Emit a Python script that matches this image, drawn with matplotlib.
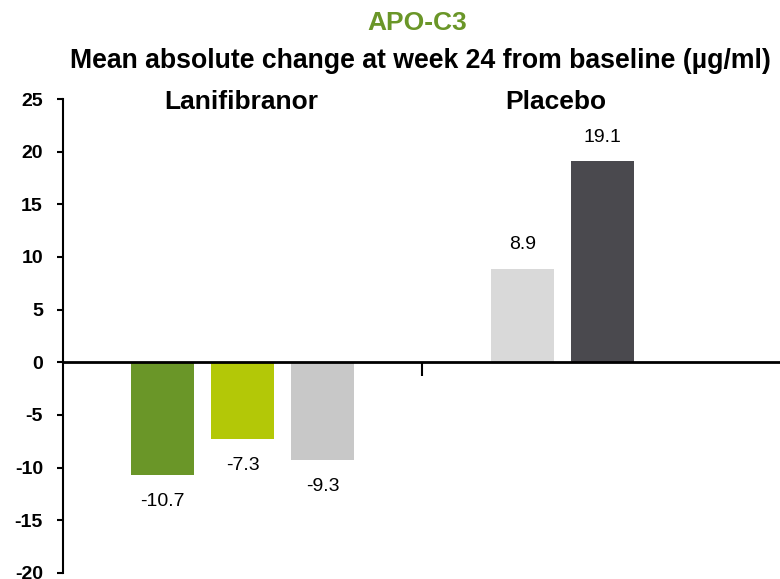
import numpy as np
import matplotlib.pyplot as plt

plt.rcParams['font.family'] = ['Liberation Sans', 'DejaVu Sans']
plt.rcParams['axes.unicode_minus'] = False

# mean absolute change at week 24 (ug/ml)
lani_values = [-10.7, -7.3, -9.3]
placebo_values = [8.9, 19.1]
lani_colors = ['#6A9628', '#B3C807', '#C8C8C8']
placebo_colors = ['#D9D9D9', '#4A494E']
group_names = ['Lanifibranor', 'Placebo']

lani_x = np.arange(len(lani_values))
placebo_x = 4.5 + np.arange(len(placebo_values))

fig = plt.figure(figsize=(7.8, 5.79), dpi=100)
ax = fig.add_axes([0.0808, 0.0104, 0.9192, 0.8186])

width = 0.79
ax.bar(lani_x, lani_values, width=width, color=lani_colors)
ax.bar(placebo_x, placebo_values, width=width, color=placebo_colors)

for x, v in zip(list(lani_x) + list(placebo_x), lani_values + placebo_values):
    if v < 0:
        ax.annotate('%.1f' % v, (x, v), xytext=(0, -19), textcoords='offset points',
                    ha='center', va='center', fontsize=14)
    else:
        ax.annotate('%.1f' % v, (x, v), xytext=(0, 17), textcoords='offset points',
                    ha='center', va='center', fontsize=14)

ax.set_xlim(-1.244, 7.72)
ax.set_ylim(-20, 25)
ax.set_yticks(np.arange(-20, 26, 5))
ax.tick_params(axis='y', direction='out', length=4.5, width=1.5, labelsize=14, pad=10)
for lbl in ax.get_yticklabels():
    lbl.set_fontweight('bold')

# x axis sits at zero, with a single tick between the groups
ax.spines['bottom'].set_position(('data', 0))
ax.spines['bottom'].set_linewidth(2)
ax.spines['left'].set_linewidth(1.5)
ax.spines['top'].set_visible(False)
ax.spines['right'].set_visible(False)
ax.set_xticks([3.24])
ax.set_xticklabels([''])
ax.tick_params(axis='x', direction='out', length=10, width=1.5)

ax.text(0.98, 24.7, group_names[0], ha='center', va='center', fontsize=19, fontweight='bold')
ax.text(4.92, 24.7, group_names[1], ha='center', va='center', fontsize=19, fontweight='bold')

fig.text(0.535, 0.961, 'APO-C3', ha='center', va='center', fontsize=19,
         fontweight='bold', color='#6A9628')
fig.text(0.539, 0.895, 'Mean absolute change at week 24 from baseline (µg/ml)',
         ha='center', va='center', fontsize=19.2, fontweight='bold')

fig.savefig('out.png', dpi=100)
